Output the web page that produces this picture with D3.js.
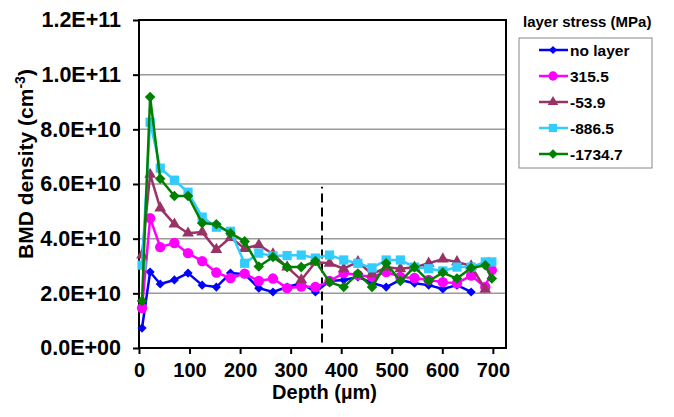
<!DOCTYPE html>
<html>
<head>
<meta charset="utf-8">
<script src="https://cdn.jsdelivr.net/npm/d3@7"></script>
<style>
  body { margin: 0; background: #fff; }
  svg text { font-family: Arial, "Liberation Sans", sans-serif; font-weight: bold; fill: #000; }
</style>
</head>
<body>
<svg width="674" height="417"></svg>
<script>
// depth of each measurement (µm)
const depth = [6, 22, 42, 70, 97, 125, 153, 181, 209, 237, 265, 293, 321, 349, 377, 405, 433, 461, 489, 517, 545, 573, 601, 629, 657, 685, 698];

// BMD density, in units of 1e10 cm^-3 (null = no point)
const noLayer = [0.73, 2.78, 2.34, 2.49, 2.74, 2.30, 2.23, 2.74, 2.70, 2.19, 2.05, 2.23, 2.37, 2.05, 2.45, 2.49, 2.60, 2.38, 2.23, 2.49, 2.37, 2.30, 2.16, 2.30, 2.05, null, null];
const stress315 = [1.46, 4.75, 3.69, 3.84, 3.47, 3.18, 2.76, 2.56, 2.72, 2.45, 2.54, 2.19, 2.25, 2.23, 2.45, 2.74, 2.67, 2.60, 2.78, 2.60, 2.56, 2.49, 2.41, 2.37, 2.65, 2.23, 2.85];
const stress54 = [3.40, 6.35, 5.12, 4.53, 4.20, 4.24, 3.60, 4.04, 3.64, 3.77, 3.44, 2.96, 2.49, 3.14, 3.10, 2.90, 3.15, 2.70, 2.95, 2.90, 2.95, 3.10, 3.25, 3.15, 3.00, 2.15, null];
const stress886 = [3.03, 8.26, 6.58, 6.14, 5.70, 4.79, 4.42, 4.27, 3.10, 3.47, 3.37, 3.38, 3.40, 3.29, 3.40, 3.22, 3.10, 2.93, 3.22, 3.22, 2.96, 2.90, 2.82, 2.96, 2.96, 3.15, 3.15];
const stress1734 = [1.72, 9.18, 6.19, 5.56, 5.56, 4.57, 4.53, 4.20, 3.90, 2.98, 3.33, 2.96, 2.96, 3.18, 2.41, 2.23, 2.72, 2.23, 3.10, 2.45, 2.96, 2.45, 2.76, 2.54, 2.93, 3.03, 2.54];

const seriesNames = ['no layer', '315.5', '-53.9', '-886.5', '-1734.7'];
const seriesValues = [noLayer, stress315, stress54, stress886, stress1734];

const xTicks = [0, 100, 200, 300, 400, 500, 600, 700];
const yTicks = [0, 2e10, 4e10, 6e10, 8e10, 1e11, 1.2e11];

// vertical dashed marker: depth and its y extent (cm^-3)
const boundaryDepth = 362;
const boundaryRange = [0.2e10, 5.9e10];

// chart frame
const plotL = 139, plotR = 506, plotT = 20, plotB = 348;
const svg = d3.select('svg');

const x = d3.scaleLinear().domain([0, 726]).range([plotL, plotR]);
const y = d3.scaleLinear().domain([0, 1.2e11]).range([plotB, plotT]);

const fmt = v => {
  if (v === 0) return '0.0E+00';
  const e = Math.floor(Math.log10(v));
  const m = v / Math.pow(10, e);
  return m.toFixed(1) + 'E+' + String(e).padStart(2, '0');
};

// gridlines
svg.append('g')
  .selectAll('line')
  .data(yTicks.filter(t => t > 0 && t < 1.2e11))
  .join('line')
  .attr('x1', plotL).attr('x2', plotR)
  .attr('y1', d => y(d)).attr('y2', d => y(d))
  .attr('stroke', '#9a9a9a').attr('stroke-width', 1.5);

// y axis
const yAxis = svg.append('g')
  .attr('transform', `translate(${plotL},0)`)
  .call(d3.axisLeft(y).tickValues(yTicks).tickFormat(fmt).tickSize(6).tickPadding(12));
yAxis.select('.domain').remove();
yAxis.selectAll('.tick line').attr('stroke', '#000').attr('stroke-width', 2);
yAxis.selectAll('.tick text').attr('font-size', 21.5).style('font-family', 'Arial, "Liberation Sans", sans-serif').style('font-weight', 'bold');

// x axis
const xAxis = svg.append('g')
  .attr('transform', `translate(0,${plotB})`)
  .call(d3.axisBottom(x).tickValues(xTicks).tickFormat(d3.format('d')).tickSize(6).tickPadding(9));
xAxis.select('.domain').remove();
xAxis.selectAll('.tick line').attr('stroke', '#000').attr('stroke-width', 2);
xAxis.selectAll('.tick text').attr('font-size', 20).style('font-family', 'Arial, "Liberation Sans", sans-serif').style('font-weight', 'bold');

// plot border
svg.append('rect')
  .attr('x', plotL).attr('y', plotT)
  .attr('width', plotR - plotL).attr('height', plotB - plotT)
  .attr('fill', 'none').attr('stroke', '#000').attr('stroke-width', 2);

// dashed boundary
svg.append('line')
  .attr('x1', x(boundaryDepth)).attr('x2', x(boundaryDepth))
  .attr('y1', y(boundaryRange[0])).attr('y2', y(boundaryRange[1]))
  .attr('stroke', '#000').attr('stroke-width', 2).attr('stroke-dasharray', '9,5');

// series styles
const colors = ['#0000ff', '#ff00ff', '#993366', '#33ccff', '#008000'];
const shapes = [
  { type: d3.symbolSquare, size: 42, rotate: 45 },
  { type: d3.symbolCircle, size: 85, rotate: 0 },
  { type: d3.symbolTriangle, size: 60, rotate: 0 },
  { type: d3.symbolSquare, size: 85, rotate: 0 },
  { type: d3.symbolSquare, size: 56, rotate: 45 }
];

const line = d3.line()
  .defined(d => d[1] != null)
  .x(d => x(d[0]))
  .y(d => y(d[1] * 1e10));

seriesValues.forEach((vals, i) => {
  const pts = depth.map((d, j) => [d, vals[j]]);
  const g = svg.append('g');
  g.append('path')
    .datum(pts)
    .attr('d', line)
    .attr('fill', 'none')
    .attr('stroke', colors[i])
    .attr('stroke-width', 2.5)
    .attr('stroke-linejoin', 'round');
  g.selectAll('path.mk')
    .data(pts.filter(p => p[1] != null))
    .join('path')
    .attr('class', 'mk')
    .attr('d', d3.symbol(shapes[i].type, shapes[i].size))
    .attr('transform', p => `translate(${x(p[0])},${y(p[1] * 1e10)}) rotate(${shapes[i].rotate})`)
    .attr('fill', colors[i]);
});

// axis titles
svg.append('text')
  .attr('x', (plotL + plotR) / 2 + 2).attr('y', 399)
  .attr('text-anchor', 'middle').attr('font-size', 20)
  .text('Depth (µm)');

const yTitle = svg.append('text')
  .attr('transform', 'translate(33,164) rotate(-90)')
  .attr('text-anchor', 'middle').attr('font-size', 21);
yTitle.append('tspan').text('BMD density (cm');
yTitle.append('tspan').attr('font-size', 14).attr('dy', -8).text('-3');
yTitle.append('tspan').attr('dy', 8).text(')');

// legend
svg.append('text')
  .attr('x', 523).attr('y', 27)
  .attr('font-size', 15)
  .text('layer stress (MPa)');

svg.append('rect')
  .attr('x', 519).attr('y', 38)
  .attr('width', 133).attr('height', 130)
  .attr('fill', '#fff').attr('stroke', '#888').attr('stroke-width', 1);

const legendY = d3.scalePoint().domain(seriesNames).range([50, 154]);
const lg = svg.append('g')
  .selectAll('g')
  .data(seriesNames)
  .join('g')
  .attr('transform', d => `translate(0,${legendY(d)})`);
lg.append('line')
  .attr('x1', 539).attr('x2', 568)
  .attr('stroke', (d, i) => colors[i]).attr('stroke-width', 2.5);
lg.append('path')
  .attr('d', (d, i) => d3.symbol(shapes[i].type, shapes[i].size * 0.8)())
  .attr('transform', (d, i) => `translate(553,0) rotate(${shapes[i].rotate})`)
  .attr('fill', (d, i) => colors[i]);
lg.append('text')
  .attr('x', 570).attr('y', 5.5)
  .attr('font-size', 15.5)
  .text(d => d);
</script>
</body>
</html>
